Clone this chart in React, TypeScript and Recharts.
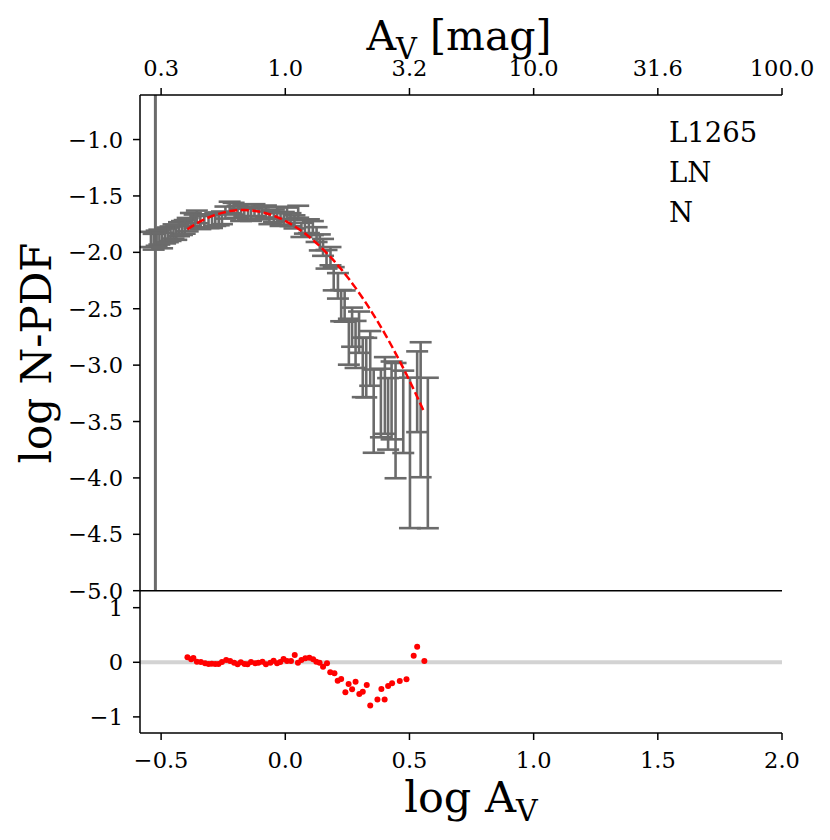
import React from 'react';
import {
  ComposedChart,
  Scatter,
  XAxis,
  YAxis,
  ErrorBar,
  ReferenceLine,
} from 'recharts';

// ---- data ----
const ptX = [
  -0.541, -0.53, -0.518, -0.507, -0.496, -0.484, -0.473, -0.462, -0.45, -0.439, -0.428, -0.416, -0.405, -0.393,
  -0.38, -0.365, -0.356, -0.342, -0.326, -0.309, -0.295, -0.282, -0.268, -0.255,
  -0.241, -0.224, -0.208, -0.192, -0.178, -0.165, -0.15, -0.138, -0.124, -0.107,
  -0.094, -0.078, -0.064, -0.046, -0.033, -0.019, -0.006, 0.007, 0.021, 0.037,
  0.052, 0.065, 0.079, 0.095, 0.111, 0.126, 0.139, 0.152, 0.166, 0.182,
  0.195, 0.212, 0.225, 0.239, 0.256, 0.269, 0.283, 0.297, 0.312, 0.326,
  0.342, 0.356, 0.385, 0.401, 0.414, 0.428, 0.444, 0.475, 0.502, 0.531,
  0.545, 0.574,
];
const ptY = [
  -1.88, -1.9, -1.87, -1.86, -1.89, -1.85, -1.84, -1.83, -1.81, -1.82, -1.79, -1.78, -1.77, -1.75,
  -1.704, -1.719, -1.682, -1.732, -1.718, -1.723, -1.722, -1.705, -1.699, -1.69,
  -1.644, -1.599, -1.61, -1.637, -1.664, -1.625, -1.656, -1.663, -1.622, -1.651,
  -1.645, -1.634, -1.69, -1.672, -1.646, -1.705, -1.694, -1.653, -1.706, -1.726,
  -1.636, -1.796, -1.768, -1.763, -1.78, -1.837, -1.906, -1.95, -2.054, -2.027,
  -2.222, -2.282, -2.451, -2.455, -2.746, -2.63, -2.768, -2.671, -2.944, -2.946,
  -2.876, -3.297, -3.29, -3.159, -3.399, -3.208, -3.223, -3.309, -3.395, -3.094,
  -2.994, -3.396,
];
const errLo = [
  0.073, 0.076, 0.072, 0.071, 0.074, 0.071, 0.07, 0.069, 0.068, 0.069, 0.067, 0.066, 0.065, 0.064,
  0.061, 0.062, 0.06, 0.062, 0.062, 0.062, 0.062, 0.061, 0.061, 0.06,
  0.057, 0.055, 0.055, 0.057, 0.058, 0.056, 0.058, 0.058, 0.056, 0.057,
  0.057, 0.057, 0.06, 0.059, 0.057, 0.061, 0.06, 0.058, 0.061, 0.062,
  0.057, 0.068, 0.066, 0.066, 0.067, 0.071, 0.077, 0.081, 0.09, 0.088,
  0.115, 0.128, 0.16, 0.16, 0.25, 0.207, 0.257, 0.22, 0.34, 0.34,
  0.307, 0.48, 0.35, 0.45, 0.35, 0.45, 0.78, 0.47, 1.05, 0.5,
  1.0, 1.05,
];
const errHi = [
  0.062, 0.064, 0.062, 0.061, 0.063, 0.061, 0.06, 0.059, 0.058, 0.059, 0.057, 0.057, 0.056, 0.055,
  0.053, 0.054, 0.052, 0.054, 0.054, 0.054, 0.054, 0.053, 0.053, 0.052,
  0.05, 0.048, 0.049, 0.05, 0.051, 0.049, 0.051, 0.051, 0.049, 0.05,
  0.05, 0.049, 0.052, 0.051, 0.05, 0.053, 0.052, 0.05, 0.053, 0.054,
  0.049, 0.058, 0.056, 0.056, 0.057, 0.06, 0.065, 0.069, 0.075, 0.074,
  0.091, 0.098, 0.117, 0.117, 0.157, 0.14, 0.16, 0.146, 0.188, 0.188,
  0.178, 0.258, 0.258, 0.23, 0.284, 0.24, 0.242, 0.26, 0.284, 0.216,
  0.197, 0.284,
];
const resX = [
  -0.394, -0.379, -0.37, -0.356, -0.34, -0.323, -0.309, -0.296, -0.282, -0.269,
  -0.255, -0.238, -0.222, -0.206, -0.192, -0.179, -0.164, -0.152, -0.138, -0.121,
  -0.108, -0.092, -0.078, -0.06, -0.047, -0.033, -0.02, -0.007, 0.007, 0.023,
  0.038, 0.051, 0.065, 0.081, 0.097, 0.112, 0.125, 0.138, 0.152, 0.168,
  0.181, 0.198, 0.211, 0.225, 0.242, 0.255, 0.269, 0.283, 0.298, 0.312,
  0.328, 0.342, 0.371, 0.387, 0.4, 0.414, 0.43, 0.461, 0.488, 0.517,
  0.531, 0.56,
];
const resY = [
  0.092, 0.055, 0.079, 0.011, 0.006, -0.018, -0.031, -0.026, -0.031, -0.031,
  0.006, 0.042, 0.024, -0.007, -0.037, 0.0, -0.031, -0.037, 0.006, -0.018,
  -0.007, 0.011, -0.037, -0.007, 0.029, -0.018, 0.006, 0.061, 0.024, 0.024,
  0.134, -0.007, 0.042, 0.073, 0.084, 0.055, 0.011, -0.007, -0.081, -0.018,
  -0.183, -0.202, -0.338, -0.306, -0.55, -0.398, -0.495, -0.356, -0.582, -0.539,
  -0.417, -0.79, -0.68, -0.49, -0.68, -0.435, -0.386, -0.343, -0.312, 0.121,
  0.286, 0.024,
];
const modelY = [
  -1.796, -1.774, -1.761, -1.743, -1.724, -1.705, -1.691, -1.679, -1.668, -1.659,
  -1.65, -1.641, -1.634, -1.63, -1.627, -1.625, -1.625, -1.626, -1.628, -1.633,
  -1.638, -1.645, -1.653, -1.665, -1.675, -1.687, -1.7, -1.714, -1.73, -1.75,
  -1.77, -1.789, -1.81, -1.836, -1.864, -1.892, -1.917, -1.943, -1.973, -2.009,
  -2.039, -2.08, -2.113, -2.149, -2.196, -2.232, -2.273, -2.315, -2.362, -2.407,
  -2.459, -2.507, -2.61, -2.669, -2.719, -2.773, -2.837, -2.966, -3.083, -3.215,
  -3.28, -3.42,
];
const xTicks = [-0.5, 0, 0.5, 1, 1.5, 2];
const topTickLabels = ['0.3', '1.0', '3.2', '10.0', '31.6', '100.0'];
const yTicks = [-5, -4.5, -4, -3.5, -3, -2.5, -2, -1.5, -1];
const resTicks = [-1, 0, 1];
const avLimit = -0.523;
const annotations = ['L1265', 'LN', 'N'];

// ---- derived tables ----
const points = ptX.map((x, i) => ({ x, y: ptY[i], e: [errLo[i], errHi[i]] }));
const model = resX.map((x, i) => ({ x, y: modelY[i] }));
const resid = resX.map((x, i) => ({ x, y: resY[i] }));

const FONT = 'DejaVu Serif';
const tickStyle = { fontSize: 22.5, fontFamily: FONT, fill: '#000' };
const XDOM: [number, number] = [-0.585, 2.0];
const minus = (s: string) => s.replace('-', '\u2212');
const fmt1 = (v: number) => minus(v.toFixed(1));
const fmtTop = (v: number) => {
  const i = xTicks.indexOf(v);
  return i >= 0 ? topTickLabels[i] : '';
};
const fmtRes = (v: number) => minus(String(v));

const axisCommon = {
  stroke: '#000',
  strokeWidth: 1.5,
  tickSize: 7,
};

const Empty = () => <g />;
const Dot = (p: any) => <circle cx={p.cx} cy={p.cy} r={3} fill="#ff0000" />;

export default function App() {
  return (
    <div style={{ position: 'absolute', left: 0, top: 0, width: 830, height: 840, background: '#fff' }}>
      <div style={{ position: 'absolute', left: 0, top: 0 }}>
        <ComposedChart width={830} height={620} margin={{ top: 0, right: 48, bottom: 0, left: 0 }}>
          <XAxis
            xAxisId="top"
            orientation="top"
            type="number"
            dataKey="x"
            domain={XDOM}
            allowDataOverflow
            ticks={xTicks}
            interval={0}
            tickFormatter={fmtTop}
            height={95}
            tickMargin={12}
            tick={tickStyle}
            {...axisCommon}
          />
          <XAxis
            xAxisId="bot"
            orientation="bottom"
            type="number"
            dataKey="x"
            domain={XDOM}
            allowDataOverflow
            ticks={xTicks}
            interval={0}
            tick={false}
            height={29.3}
            {...axisCommon}
          />
          <YAxis
            yAxisId="l"
            type="number"
            dataKey="y"
            domain={[-5, -0.605]}
            allowDataOverflow
            ticks={yTicks}
            interval={0}
            tickFormatter={fmt1}
            width={140}
            tickMargin={10}
            tick={tickStyle}
            {...axisCommon}
          />
          <YAxis
            yAxisId="r"
            orientation="right"
            type="number"
            domain={[-5, -0.605]}
            allowDataOverflow
            width={0}
            tick={false}
            tickLine={false}
            stroke="#000"
            strokeWidth={1.5}
          />
          <ReferenceLine xAxisId="bot" yAxisId="l" x={avLimit} stroke="#6b6b6b" strokeWidth={3} />
          <Scatter
            xAxisId="bot"
            yAxisId="l"
            data={points}
            dataKey="y"
            shape={Empty}
            isAnimationActive={false}
          >
            <ErrorBar
              dataKey="e"
              direction="y"
              width={11}
              stroke="#6b6b6b"
              strokeWidth={2.6}
              isAnimationActive={false}
            />
          </Scatter>
          <Scatter
            xAxisId="bot"
            yAxisId="l"
            data={model}
            dataKey="y"
            shape={Empty}
            fill="#ff0000"
            line={{ stroke: '#ff0000', strokeWidth: 2.5, strokeDasharray: '8 3.5', fill: 'none' }}
            lineType="joint"
            isAnimationActive={false}
          />
        </ComposedChart>
      </div>
      <div style={{ position: 'absolute', left: 0, top: 0 }}>
        <ComposedChart width={830} height={840} margin={{ top: 590.7, right: 48, bottom: 0, left: 0 }}>
          <XAxis
            type="number"
            dataKey="x"
            domain={XDOM}
            allowDataOverflow
            ticks={xTicks}
            interval={0}
            tickFormatter={fmt1}
            height={107}
            tickMargin={12}
            tick={tickStyle}
            {...axisCommon}
          />
          <YAxis
            type="number"
            dataKey="y"
            domain={[-1.295, 1.311]}
            allowDataOverflow
            ticks={resTicks}
            interval={0}
            tickFormatter={fmtRes}
            width={140}
            tickMargin={10}
            tick={tickStyle}
            {...axisCommon}
          />
          <YAxis
            yAxisId="r"
            orientation="right"
            type="number"
            domain={[-1.295, 1.311]}
            allowDataOverflow
            width={0}
            tick={false}
            tickLine={false}
            stroke="#000"
            strokeWidth={1.5}
          />
          <ReferenceLine y={0} stroke="#d3d3d3" strokeWidth={4} />
          <Scatter data={resid} dataKey="y" shape={Dot} fill="#ff0000" isAnimationActive={false} />
        </ComposedChart>
      </div>
      <svg
        width={830}
        height={840}
        style={{ position: 'absolute', left: 0, top: 0, pointerEvents: 'none' }}
        fontFamily={FONT}
      >
        <text x={459} y={50} fontSize={41} textAnchor="middle" fill="#000">
          A<tspan dy={9} fontSize={29}>V</tspan>
          <tspan dy={-9}> [mag]</tspan>
        </text>
        <text x={471} y={812} fontSize={43} textAnchor="middle" fill="#000">
          log A<tspan dy={9} fontSize={30}>V</tspan>
        </text>
        <text x={51} y={353} fontSize={42} textAnchor="middle" fill="#000" transform="rotate(-90 51 353)">
          log N-PDF
        </text>
        {annotations.map((t, i) => (
          <text key={t} x={669} y={141.7 + i * 40} fontSize={27.5} fill="#000">
            {t}
          </text>
        ))}
      </svg>
    </div>
  );
}
